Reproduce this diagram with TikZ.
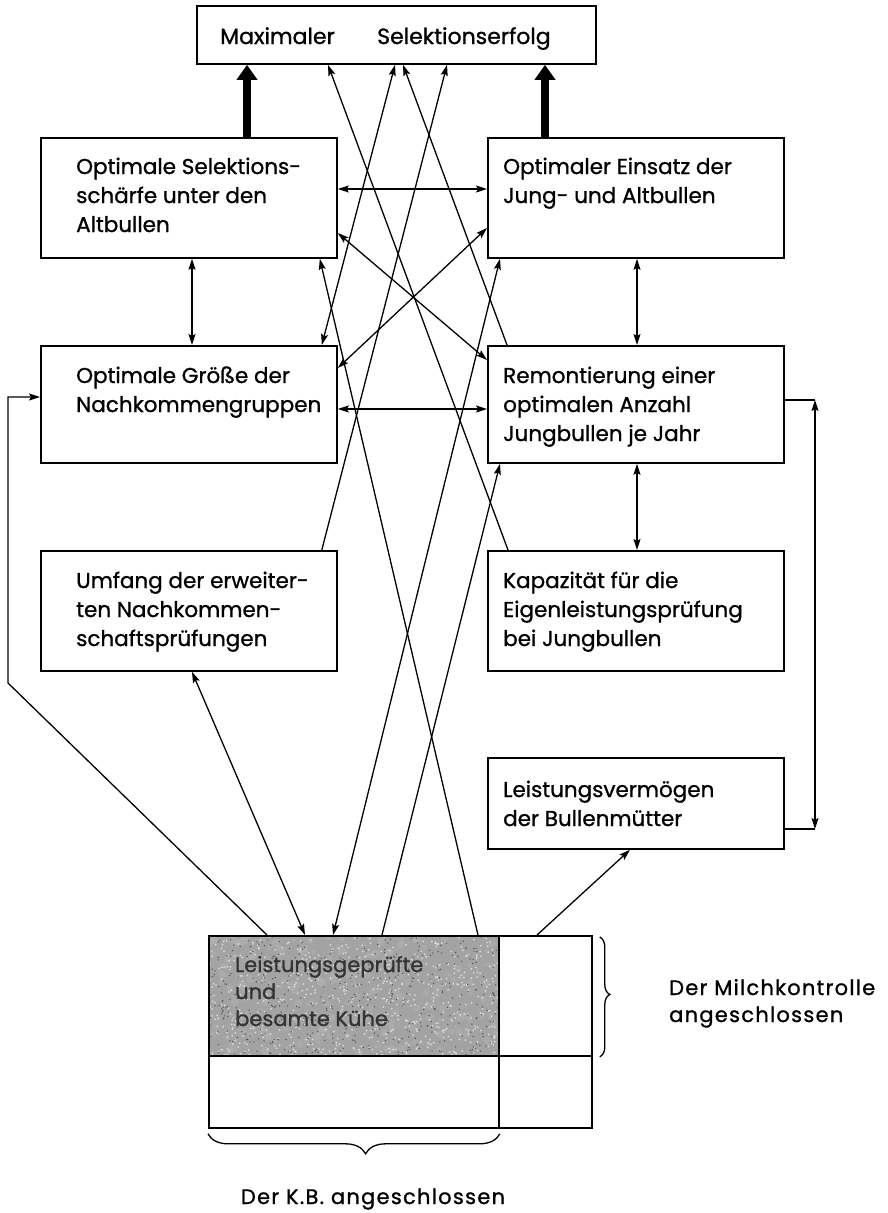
\documentclass[tikz,border=0pt]{standalone}
\usepackage{fontspec}
\setmainfont{Poppins}[FakeBold=1]
\usetikzlibrary{arrows.meta,calc,decorations.pathreplacing}
\newcommand\boxlines[1]{\begin{tabular}[t]{@{}l@{}}#1\end{tabular}}
\begin{document}
\begin{tikzpicture}[x=1pt,y=-1pt,
  box/.style={draw, line width=1.8pt, inner sep=0pt, anchor=north west},
  txt/.style={inner sep=0pt, anchor=base west, font=\fontsize{21.5}{29}\selectfont},
  con/.style={line width=1.3pt},
  oneway/.style={con, -{Stealth[length=11pt,width=7pt,inset=2pt]}},
  twoway/.style={con, {Stealth[length=11pt,width=7pt,inset=2pt]}-{Stealth[length=11pt,width=7pt,inset=2pt]}},
  fatarrow/.style={line width=8pt, -{Triangle[length=15pt,width=20pt]}},
  bracestyle/.style={line width=1.3pt, decorate}]
\useasboundingbox (0,0) rectangle (888,1213);
\fill[white] (0,0) rectangle (888,1213);

% boxes
\node[box, minimum width=399pt, minimum height=58pt] (T) at (196,5) {};
\node[box, minimum width=296pt, minimum height=120pt] (A) at (40,137) {};
\node[box, minimum width=296pt, minimum height=120pt] (B) at (487,137) {};
\node[box, minimum width=296pt, minimum height=117pt] (C) at (40,345) {};
\node[box, minimum width=296pt, minimum height=117pt] (D) at (487,345) {};
\node[box, minimum width=296pt, minimum height=120pt] (E) at (40,550) {};
\node[box, minimum width=296pt, minimum height=120pt] (F) at (487,550) {};
\node[box, minimum width=296pt, minimum height=91pt] (G) at (487,757) {};

% bottom block
\fill[black!36] (208,935) rectangle (498,1055);
\begin{scope}
  \clip (208,935) rectangle (498,1055);
  \pgfmathsetseed{42}
  \foreach \i in {1,...,260} {
    \pgfmathsetmacro{\px}{208+290*rnd}
    \pgfmathsetmacro{\py}{935+120*rnd}
    \pgfmathsetmacro{\pr}{1.5+3*rnd}
    \fill[white!70!black, opacity=0.5] (\px,\py) circle (\pr);
  }
  \foreach \i in {1,...,700} {
    \pgfmathsetmacro{\px}{208+290*rnd}
    \pgfmathsetmacro{\py}{935+120*rnd}
    \fill[white!85!black] (\px,\py) circle (1.0);
  }
  \foreach \i in {1,...,500} {
    \pgfmathsetmacro{\px}{208+290*rnd}
    \pgfmathsetmacro{\py}{935+120*rnd}
    \fill[black!70] (\px,\py) circle (0.7);
  }
\end{scope}
\node[box, minimum width=290pt, minimum height=120pt] (K) at (208,935) {};
\node[box, minimum width=93pt, minimum height=120pt] (Kr) at (498,935) {};
\node[box, minimum width=290pt, minimum height=72pt] (Kb) at (208,1055) {};
\node[box, minimum width=93pt, minimum height=72pt] (Kbr) at (498,1055) {};

% texts
\node[txt, font=\fontsize{22}{29}\selectfont] (Tt1) at ($(T.north west)+(24,39)$) {Maximaler};
\node[txt, font=\fontsize{22}{29}\selectfont] (Tt2) at ($(T.north west)+(181,39)$) {Selektionserfolg};
\node[txt] (At) at ($(A.north west)+(36,37)$) {\boxlines{Optimale Selektions-\\schärfe unter den\\Altbullen}};
\node[txt] (Bt) at ($(B.north west)+(16,37)$) {\boxlines{Optimaler Einsatz der\\Jung- und Altbullen}};
\node[txt] (Ct) at ($(C.north west)+(36,38)$) {\boxlines{Optimale Größe der\\Nachkommengruppen}};
\node[txt] (Dt) at ($(D.north west)+(16,38)$) {\boxlines{Remontierung einer\\optimalen Anzahl\\Jungbullen je Jahr}};
\node[txt] (Et) at ($(E.north west)+(36,38)$) {\boxlines{Umfang der erweiter-\\ten Nachkommen-\\schaftsprüfungen}};
\node[txt] (Ft) at ($(F.north west)+(16,38)$) {\boxlines{Kapazität für die\\Eigenleistungsprüfung\\bei Jungbullen}};
\node[txt] (Gt) at ($(G.north west)+(16,40)$) {\boxlines{Leistungsvermögen\\der Bullenmütter}};
\node[txt, text=black!80, font=\fontsize{21}{27}\selectfont] (Kt) at ($(K.north west)+(27,37)$) {\boxlines{Leistungsgeprüfte\\und\\besamte Kühe}};
\node[txt, font=\fontsize{21}{27}\selectfont\addfontfeature{LetterSpace=6}] (Mt) at (669,995) {\boxlines{Der Milchkontrolle\\angeschlossen}};
\node[txt, anchor=base, font=\fontsize{21}{27}\selectfont\addfontfeature{LetterSpace=6}] (KBt) at (373,1204) {Der K.B. angeschlossen};

% braces
\draw[bracestyle, decoration={brace, amplitude=10pt, aspect=0.48}] ($(Kr.north east)+(7,2)$) -- ($(Kr.south east)+(7,0)$);
\draw[bracestyle, decoration={brace, mirror, amplitude=20pt, aspect=0.54}] ($(Kb.south west)+(0,5)$) -- ($(Kb.south east)+(0,5)$);

% thick arrows
\draw[fatarrow] ($(A.north west)+(207,0)$) -- ($(T.south west)+(51,0)$);
\draw[fatarrow] ($(B.north west)+(58,0)$) -- ($(T.south west)+(349,0)$);

% straight connections
\draw[twoway] ($(A.north east)+(0,52)$) -- ($(B.north west)+(0,52)$);
\draw[twoway] ($(A.south west)+(152,0)$) -- ($(C.north west)+(152,0)$);
\draw[twoway] ($(B.south west)+(150,0)$) -- ($(D.north west)+(150,0)$);
\draw[twoway] ($(C.north east)+(0,64)$) -- ($(D.north west)+(0,64)$);
\draw[twoway] ($(D.south west)+(150,0)$) -- ($(F.north west)+(150,0)$);

% right loop
\coordinate (rt) at (815,400);
\coordinate (rb) at (815,829);
\draw[con] ($(D.north east)+(0,55)$) -- (rt);
\draw[con] ($(G.north east)+(0,72)$) -- (rb);
\draw[twoway] (rt) -- (rb);

% left loop
\coordinate (lb) at (8,683);
\coordinate (lt) at (8,397);
\draw[oneway] ($(K.north west)+(59,0)$) -- (lb) -- (lt) -- ($(C.north west)+(0,52)$);

% diagonals
\draw[twoway] ($(E.south west)+(152,0)$) -- ($(K.north west)+(97,0)$);
\draw[twoway] ($(K.north west)+(125,0)$) -- ($(B.south west)+(13,0)$);
\draw[oneway] ($(K.north west)+(174,0)$) -- ($(D.south west)+(13,0)$);
\draw[oneway] ($(K.north west)+(270,0)$) -- ($(A.south east)+(-18,0)$);
\draw[oneway] ($(F.north west)+(21,0)$) -- ($(T.south west)+(132,0)$);
\draw[twoway] ($(C.north east)+(-16,0)$) -- ($(T.south west)+(199,0)$);
\draw[oneway] ($(D.north west)+(20,0)$) -- ($(T.south west)+(207,0)$);
\draw[oneway] ($(E.north east)+(-16,0)$) -- ($(T.south west)+(251,0)$);
\draw[twoway] ($(A.north east)+(0,96)$) -- ($(D.north west)+(0,15)$);
\draw[twoway] ($(B.north west)+(0,91)$) -- ($(C.north east)+(0,23)$);
\draw[oneway] ($(Kr.north west)+(39,0)$) -- ($(G.south west)+(143,0)$);
\end{tikzpicture}
\end{document}
